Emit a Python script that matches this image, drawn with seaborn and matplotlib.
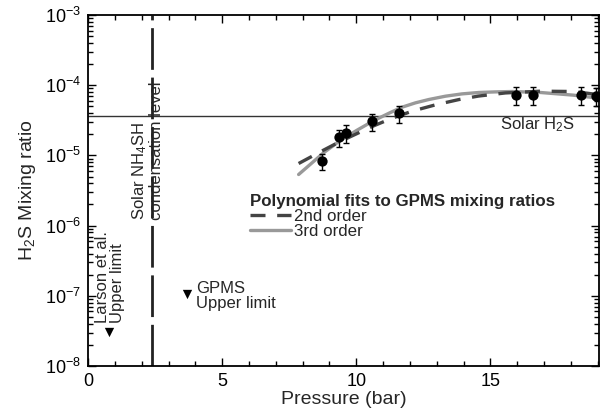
import matplotlib
matplotlib.use("Agg")
import matplotlib.pyplot as plt
import matplotlib.ticker as mticker
import numpy as np
import pandas as pd
import seaborn as sns

# GPMS measurements
pressure = [8.73, 9.35, 9.63, 10.57, 11.6, 15.97, 16.6, 18.36, 18.94]
h2s = [8.3e-6, 1.8e-5, 2.1e-5, 3.1e-5, 4.0e-5, 7.3e-5, 7.3e-5, 7.3e-5, 7.0e-5]
h2s_err = [2.2e-6, 5.0e-6, 6.0e-6, 8.5e-6, 1.1e-5, 2.1e-5, 2.1e-5, 2.1e-5, 2.0e-5]

# polynomial fit curves
fit2_p = [7.85, 8.78, 9.40, 10.03, 10.65, 11.27, 12.08, 12.95, 13.82, 14.55,
          15.56, 16.87, 18.11, 19.03]
fit2 = [7.67e-6, 1.19e-5, 1.58e-5, 2.05e-5, 2.64e-5, 3.31e-5, 4.27e-5, 5.25e-5,
        6.24e-5, 7.0e-5, 7.76e-5, 8.22e-5, 8.13e-5, 7.33e-5]
fit3_p = [7.85, 8.78, 9.40, 10.03, 10.65, 11.27, 11.71, 12.20, 12.70, 13.32,
          13.94, 14.56, 15.19, 15.81, 16.87, 18.10, 19.03]
fit3 = [5.35e-6, 1.09e-5, 1.63e-5, 2.29e-5, 3.13e-5, 4.08e-5, 4.87e-5, 5.6e-5,
        6.25e-5, 6.97e-5, 7.52e-5, 7.87e-5, 8.03e-5, 8.13e-5, 7.87e-5, 7.21e-5,
        6.53e-5]

# upper limits
limit_p = [0.8, 3.68]
limit_val = [3.1e-8, 1.05e-7]

solar_h2s = 3.6e-5
nh4sh_level = 2.4

sns.set_style("ticks")
plt.rcParams["font.family"] = ["Liberation Sans", "DejaVu Sans"]
plt.rcParams["mathtext.fontset"] = "custom"
plt.rcParams["mathtext.rm"] = "Liberation Sans"
plt.rcParams["mathtext.it"] = "Liberation Sans:italic"
plt.rcParams["font.size"] = 12

fig = plt.figure(figsize=(6.07, 4.16), dpi=100)
ax = fig.add_axes([0.145, 0.120, 0.842, 0.844])

ax.axhline(solar_h2s, color="#333333", lw=1.0, zorder=1)
ax.axvline(nh4sh_level, color="#222222", lw=2.0, dashes=(15, 2.8), zorder=1)

sns.lineplot(x=fit3_p, y=fit3, ax=ax, color="#999999", lw=2.4,
             label="3rd order", zorder=2, sort=False)
sns.lineplot(x=fit2_p, y=fit2, ax=ax, color="#444444", lw=2.4,
             label="2nd order", zorder=3, sort=False)
ax.lines[-1].set_dashes((4.5, 3.5))

ax.errorbar(pressure, h2s, yerr=h2s_err, fmt="none", ecolor="black",
            elinewidth=1.0, capsize=2.5, capthick=1.0, zorder=4)
sns.scatterplot(x=pressure, y=h2s, ax=ax, color="black", s=55,
                edgecolor="black", linewidth=0, zorder=5)
sns.scatterplot(x=limit_p, y=limit_val, ax=ax, color="black", marker="v",
                s=45, edgecolor="black", linewidth=0, zorder=5)

ax.set_yscale("log")
ax.set_xlim(0, 19.05)
ax.set_ylim(1e-8, 1e-3)
ax.xaxis.set_major_locator(mticker.MultipleLocator(5))
ax.xaxis.set_minor_locator(mticker.MultipleLocator(1))
ax.yaxis.set_major_locator(mticker.LogLocator(base=10, numticks=10))
ax.yaxis.set_minor_locator(mticker.LogLocator(base=10, subs=np.arange(2, 10), numticks=10))
ax.tick_params(which="both", direction="in", top=True, right=True, width=1.0,
               labelsize=13, colors="black")
ax.tick_params(which="major", length=6, pad=5)
ax.tick_params(which="minor", length=3.5)
for s in ax.spines.values():
    s.set_linewidth(1.3)
    s.set_color("black")

ax.set_xlabel("Pressure (bar)", fontsize=14, labelpad=1)
ax.set_ylabel("H$_2$S Mixing ratio", fontsize=14, labelpad=5)

ax.text(15.37, 2.7e-5, "Solar H$_2$S", ha="left", va="center", fontsize=12)
ax.text(4.03, 9.9e-8, "GPMS\nUpper limit", ha="left", va="center",
        fontsize=12, linespacing=0.95)
ax.text(0.82, 4.1e-8, "Larson et al.\nUpper limit", rotation=90, ha="center",
        va="bottom", multialignment="left", fontsize=12, linespacing=0.95)
ax.text(2.2, 1.2e-6, "Solar NH$_4$SH\ncondensation level", rotation=90,
        ha="center", va="bottom", multialignment="left", fontsize=12,
        linespacing=0.95, zorder=6)

h, l = ax.get_legend_handles_labels()
order = [l.index("2nd order"), l.index("3rd order")]
leg = ax.legend([h[i] for i in order], [l[i] for i in order],
                title="Polynomial fits to GPMS mixing ratios",
                title_fontproperties={"weight": "bold", "size": 12.2},
                loc="upper left", bbox_to_anchor=(0.31, 0.50), frameon=False,
                fontsize=12.2, alignment="left", handlelength=2.4,
                handletextpad=0.2, labelspacing=0.0, borderpad=0.2,
                borderaxespad=0)

fig.savefig("out.png", dpi=100)
